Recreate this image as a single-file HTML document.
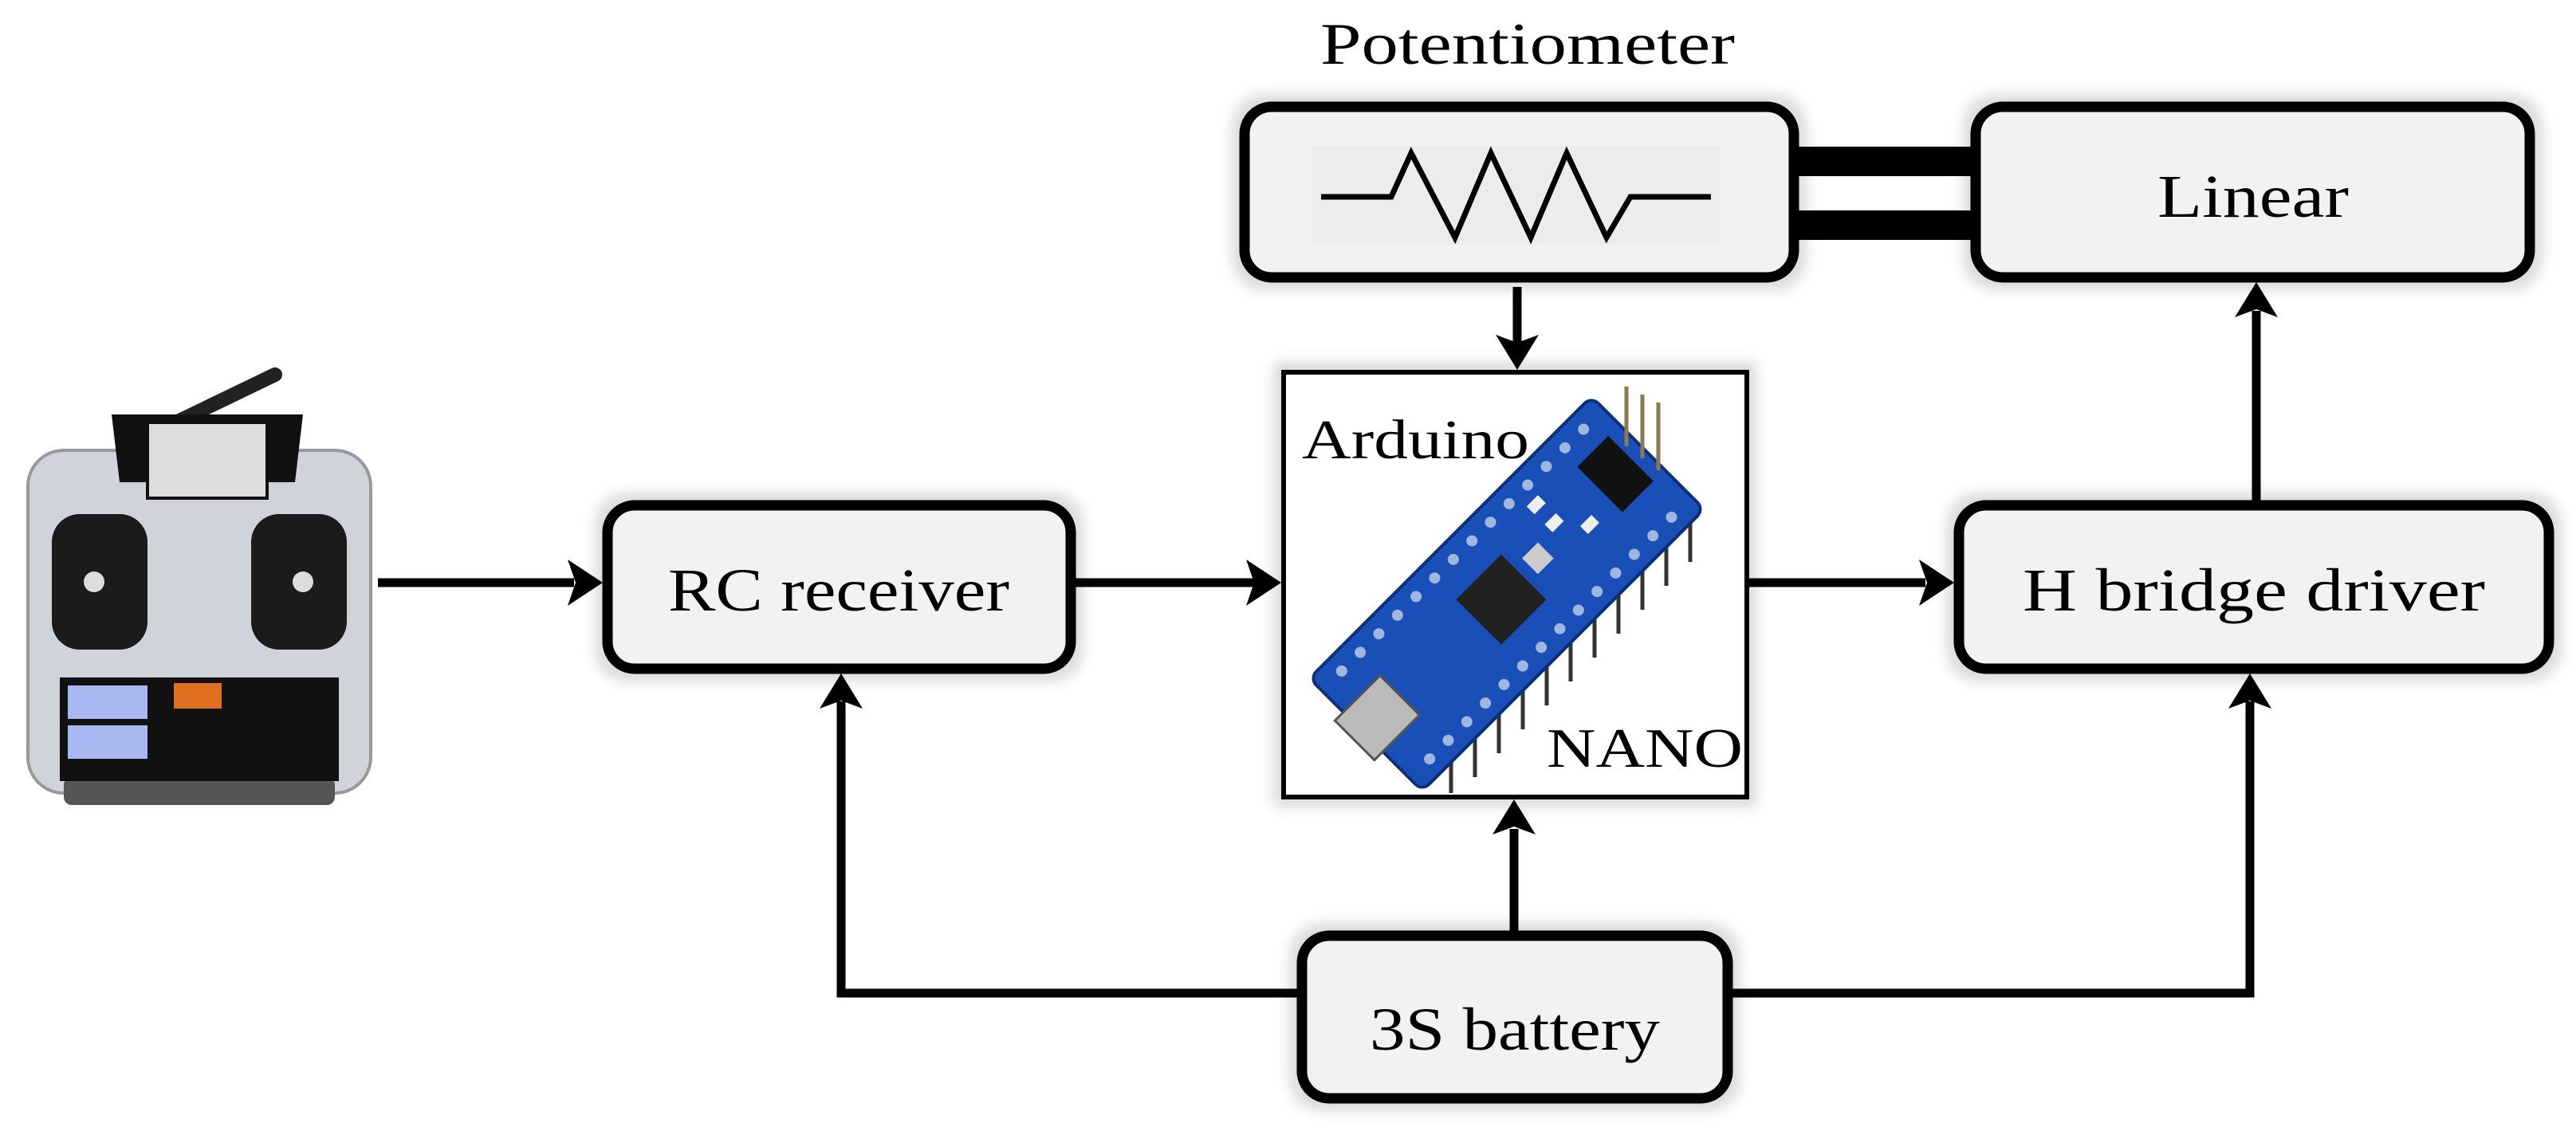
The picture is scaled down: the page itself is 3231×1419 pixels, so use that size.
<!DOCTYPE html>
<html><head><meta charset="utf-8"><style>
html,body{margin:0;padding:0;background:#fff;}
svg{display:block;}
text{font-family:"Liberation Serif",serif;fill:#000;}
</style></head><body>
<svg width="3231" height="1419" viewBox="0 0 3231 1419" xmlns="http://www.w3.org/2000/svg">
<defs>
<filter id="sh" x="-10%" y="-10%" width="120%" height="120%"><feGaussianBlur stdDeviation="8"/></filter>
<clipPath id="bx"><rect x="1613" y="470" width="575" height="527"/></clipPath>
</defs>
<rect width="3231" height="1419" fill="#fff"/>

<g fill="#ccc" filter="url(#sh)" opacity="0.7">
<rect x="1545" y="118" width="721" height="246" rx="40"/>
<rect x="2462" y="118" width="727" height="246" rx="40"/>
<rect x="746" y="618" width="613" height="237" rx="40"/>
<rect x="2441" y="618" width="772" height="237" rx="40"/>
<rect x="1617" y="1158" width="566" height="236" rx="40"/>
<rect x="1597" y="454" width="607" height="559"/>
</g>

<g stroke="#000" stroke-width="11" fill="none">
<line x1="474" y1="731" x2="720" y2="731"/>
<line x1="1349" y1="731" x2="1575" y2="731"/>
<line x1="2194" y1="731" x2="2415" y2="731"/>
<line x1="1903" y1="360" x2="1903" y2="430"/>
<line x1="2830" y1="628" x2="2830" y2="390"/>
<polyline points="1627,1246 1055,1246 1055,880"/>
<polyline points="2173,1246 2822,1246 2822,880"/>
<line x1="1899" y1="1168" x2="1899" y2="1040"/>
</g>
<g fill="#000">
<polygon points="756,731 712,702 722,731 712,760"/>
<polygon points="1607,731 1563,702 1573,731 1563,760"/>
<polygon points="2451,731 2407,702 2417,731 2407,760"/>
<polygon points="1903,464 1876,420 1903,430 1930,420"/>
<polygon points="2830,354 2803,398 2830,388 2857,398"/>
<polygon points="1055,845 1028,889 1055,879 1082,889"/>
<polygon points="2822,845 2795,889 2822,879 2849,889"/>
<polygon points="1899,1003 1872,1047 1899,1037 1926,1047"/>
<rect x="2256" y="184" width="220" height="37"/>
<rect x="2256" y="264" width="220" height="37"/>
</g>

<g fill="#f2f2f2" stroke="#000" stroke-width="13">
<rect x="1561" y="134" width="689" height="214" rx="34"/>
<rect x="2478" y="134" width="695" height="214" rx="34"/>
<rect x="762" y="634" width="581" height="205" rx="34"/>
<rect x="2457" y="634" width="740" height="205" rx="34"/>
<rect x="1633" y="1174" width="534" height="204" rx="34"/>
</g>
<rect x="1610" y="467" width="581" height="533" fill="#fff" stroke="#000" stroke-width="6"/>

<rect x="1645" y="183" width="512" height="124" fill="#ececec"/>
<polyline points="1657,247 1745,247 1770,192 1825,298 1870,192 1920,298 1965,192 2015,298 2045,247 2146,247" fill="none" stroke="#000" stroke-width="7"/>

<g clip-path="url(#bx)">
<g stroke="#333" stroke-width="5">
<line x1="1820" y1="950" x2="1820" y2="995"/><line x1="1850" y1="920" x2="1850" y2="975"/><line x1="1880" y1="890" x2="1880" y2="945"/><line x1="1910" y1="860" x2="1910" y2="915"/><line x1="1940" y1="830" x2="1940" y2="885"/><line x1="1970" y1="800" x2="1970" y2="855"/><line x1="2000" y1="770" x2="2000" y2="825"/><line x1="2030" y1="740" x2="2030" y2="795"/><line x1="2060" y1="710" x2="2060" y2="765"/><line x1="2090" y1="680" x2="2090" y2="735"/><line x1="2120" y1="650" x2="2120" y2="705"/>
</g>
<g transform="translate(1890,745) rotate(-45)">
<rect x="-250" y="-100" width="500" height="200" rx="12" fill="#1b4fb8" stroke="#0d2f7a" stroke-width="4"/>
<g fill="#9fb6e0">
<circle cx="-215" cy="-78" r="7"/><circle cx="-182" cy="-78" r="7"/><circle cx="-149" cy="-78" r="7"/><circle cx="-116" cy="-78" r="7"/><circle cx="-83" cy="-78" r="7"/><circle cx="-50" cy="-78" r="7"/><circle cx="-17" cy="-78" r="7"/><circle cx="16" cy="-78" r="7"/><circle cx="49" cy="-78" r="7"/><circle cx="82" cy="-78" r="7"/><circle cx="115" cy="-78" r="7"/><circle cx="148" cy="-78" r="7"/><circle cx="181" cy="-78" r="7"/><circle cx="214" cy="-78" r="7"/>
<circle cx="-215" cy="78" r="7"/><circle cx="-182" cy="78" r="7"/><circle cx="-149" cy="78" r="7"/><circle cx="-116" cy="78" r="7"/><circle cx="-83" cy="78" r="7"/><circle cx="-50" cy="78" r="7"/><circle cx="-17" cy="78" r="7"/><circle cx="16" cy="78" r="7"/><circle cx="49" cy="78" r="7"/><circle cx="82" cy="78" r="7"/><circle cx="115" cy="78" r="7"/><circle cx="148" cy="78" r="7"/><circle cx="181" cy="78" r="7"/><circle cx="214" cy="78" r="7"/>
</g>
<rect x="-50" y="-40" width="80" height="80" fill="#222"/>
<rect x="-265" y="-40" width="80" height="70" fill="#bbb" stroke="#555" stroke-width="3"/>
<rect x="45" y="-18" width="28" height="28" fill="#ccc"/>
<rect x="175" y="-50" width="55" height="80" fill="#111"/>
<rect x="95" y="-60" width="20" height="14" fill="#eee"/><rect x="95" y="-28" width="20" height="14" fill="#eee"/><rect x="125" y="5" width="20" height="14" fill="#eee"/>
</g>
<g stroke="#8a7a50" stroke-width="5">
<line x1="2040" y1="560" x2="2040" y2="485"/><line x1="2060" y1="575" x2="2060" y2="495"/><line x1="2080" y1="590" x2="2080" y2="505"/>
</g>
</g>

<!-- remote -->
<line x1="200" y1="540" x2="345" y2="470" stroke="#222" stroke-width="18" stroke-linecap="round"/>
<rect x="35" y="565" width="430" height="430" rx="45" fill="#cfd3da" stroke="#999" stroke-width="4"/>
<rect x="80" y="975" width="340" height="35" rx="10" fill="#555"/>
<polygon points="140,520 380,520 370,605 150,605" fill="#111"/>
<rect x="185" y="530" width="150" height="95" fill="#ddd" stroke="#111" stroke-width="4"/>
<rect x="65" y="645" width="120" height="170" rx="35" fill="#1b1b1b"/>
<rect x="315" y="645" width="120" height="170" rx="35" fill="#1b1b1b"/>
<circle cx="118" cy="730" r="13" fill="#ddd"/><circle cx="380" cy="730" r="13" fill="#ddd"/>
<rect x="75" y="850" width="350" height="130" fill="#111"/>
<rect x="85" y="860" width="100" height="42" fill="#a9b8f0"/>
<rect x="85" y="910" width="100" height="42" fill="#a9b8f0"/>
<rect x="218" y="857" width="60" height="32" fill="#e07020"/>

<text x="1916" y="80" font-size="74" text-anchor="middle" textLength="520" lengthAdjust="spacingAndGlyphs">Potentiometer</text>
<text x="2826" y="272" font-size="76" text-anchor="middle" textLength="240" lengthAdjust="spacingAndGlyphs">Linear</text>
<text x="1052" y="766" font-size="76" text-anchor="middle" textLength="428" lengthAdjust="spacingAndGlyphs">RC receiver</text>
<text x="2827" y="766" font-size="76" text-anchor="middle" textLength="580" lengthAdjust="spacingAndGlyphs">H bridge driver</text>
<text x="1900" y="1317" font-size="76" text-anchor="middle" textLength="364" lengthAdjust="spacingAndGlyphs">3S battery</text>
<text x="1633" y="575" font-size="70" textLength="285" lengthAdjust="spacingAndGlyphs">Arduino</text>
<text x="1940" y="962" font-size="70" textLength="246" lengthAdjust="spacingAndGlyphs">NANO</text>
</svg>
</body></html>
